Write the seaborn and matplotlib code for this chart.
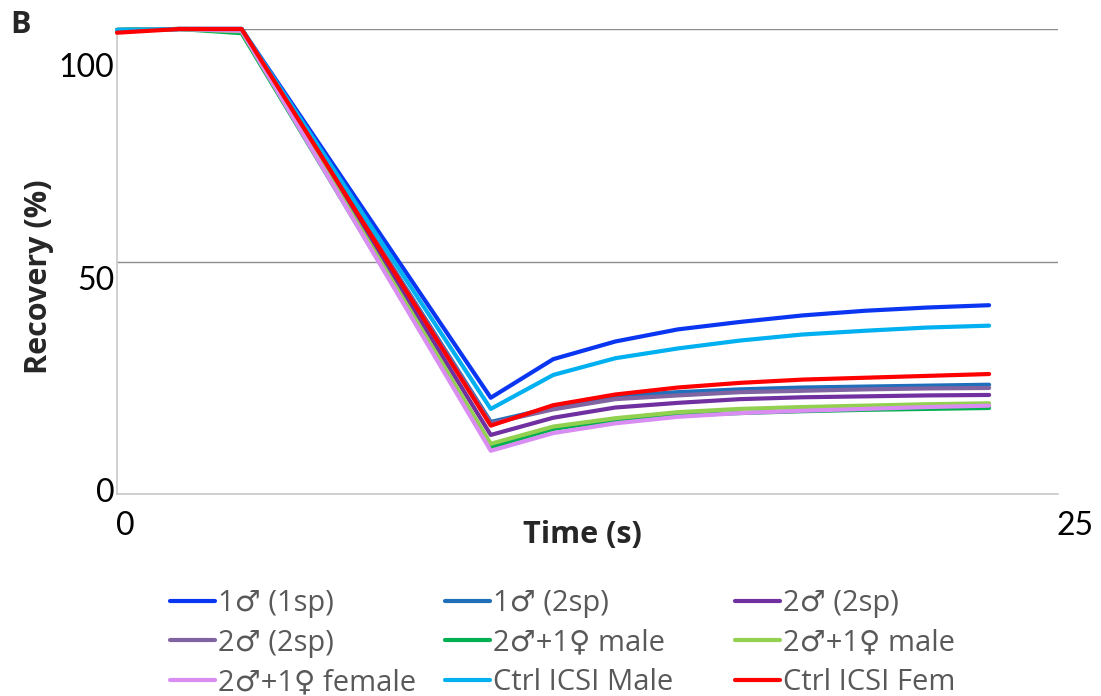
import matplotlib
matplotlib.use("Agg")
import matplotlib.pyplot as plt
import matplotlib.transforms as mtrans
from matplotlib.lines import Line2D
import seaborn as sns
import pandas as pd

# ---- data ----
time_s = [0, 1.66, 3.31, 9.93, 11.59, 13.24, 14.90, 16.55, 18.21, 19.86, 21.52, 23.17]

series_labels = ["1\u2642 (1sp)", "1\u2642 (2sp)", "2\u2642 (2sp)",
                 "2\u2642 (2sp)", "2\u2642+1\u2640 male", "2\u2642+1\u2640 male",
                 "2\u2642+1\u2640 female", "Ctrl ICSI Male", "Ctrl ICSI Fem"]

one_m_1sp = [99.8, 100, 100, 20.7, 29.0, 32.8, 35.4, 37.0, 38.4, 39.4, 40.1, 40.6]
one_m_2sp = [99.8, 100, 100, 15.5, 18.6, 21.0, 21.9, 22.5, 22.9, 23.1, 23.3, 23.5]
two_m_2sp_a = [99.7, 100, 100, 12.7, 16.4, 18.6, 19.6, 20.4, 20.8, 21.0, 21.2, 21.3]
two_m_2sp_b = [99.7, 100, 100, 15.2, 18.2, 20.4, 21.2, 21.9, 22.2, 22.5, 22.7, 22.8]
two_m_f_male_a = [99.8, 100, 99.1, 10.1, 14.0, 15.9, 16.9, 17.4, 17.8, 18.1, 18.3, 18.5]
two_m_f_male_b = [99.8, 100, 99.5, 10.8, 14.5, 16.3, 17.6, 18.3, 18.7, 19.0, 19.3, 19.5]
two_m_f_female = [99.7, 100, 99.6, 9.3, 13.1, 15.2, 16.6, 17.4, 17.9, 18.3, 18.7, 19.0]
ctrl_male = [99.8, 100, 100, 18.3, 25.6, 29.2, 31.3, 33.0, 34.3, 35.1, 35.8, 36.2]
ctrl_fem = [99.2, 100, 100, 14.7, 19.1, 21.4, 22.9, 23.9, 24.6, 25.0, 25.4, 25.8]

all_series = [one_m_1sp, one_m_2sp, two_m_2sp_a, two_m_2sp_b, two_m_f_male_a,
              two_m_f_male_b, two_m_f_female, ctrl_male, ctrl_fem]
colors = ["#0a36f2", "#1f6fbb", "#7030a0", "#8064a2", "#00b050",
          "#92d050", "#d98cf2", "#00b0f0", "#ff0000"]

y_ticks = [0, 50, 100]
x_ticks = [0, 25]

# ---- plotting ----
sns.set_theme(style="white")
plt.rcParams["font.family"] = ["Lato", "DejaVu Sans"]
label_font = ["Open Sans", "DejaVu Sans"]

fig = plt.figure(figsize=(11.01, 6.96), dpi=100)
ax = fig.add_axes([117 / 1101, 1 - 494 / 696, (1058 - 117) / 1101, (494 - 29) / 696])

for i, (vals, col) in enumerate(zip(all_series, colors)):
    df = pd.DataFrame({"t": time_s, "v": vals})
    sns.lineplot(data=df, x="t", y="v", ax=ax, color=col, linewidth=3.0,
                 legend=False, zorder=3 + i, clip_on=False)

ax.set_xlim(0, 25)
ax.set_ylim(0, 100)
ax.set_yticks(y_ticks)
ax.set_xticks(x_ticks)
ax.set_yticklabels([str(v) for v in y_ticks])
ax.set_xticklabels([str(v) for v in x_ticks])
ax.tick_params(axis="both", length=0, labelsize=23, colors="black", pad=2)

# horizontal gridlines (gray) at 50 and 100
for yv in [50, 100]:
    ax.axhline(yv, color="#8c8c8c", linewidth=1.0, zorder=1)

for s in ["top", "right"]:
    ax.spines[s].set_visible(False)
ax.spines["left"].set_color("#c8c8c8")
ax.spines["bottom"].set_color("#c8c8c8")
ax.spines["left"].set_linewidth(1.2)
ax.spines["bottom"].set_linewidth(1.2)

# Excel-like offset of tick labels
ydy = {0: 4, 50: -16, 100: -36}
for lab, v in zip(ax.get_yticklabels(), y_ticks):
    lab.set_transform(lab.get_transform() + mtrans.ScaledTranslation(0, ydy[v] / 100, fig.dpi_scale_trans))
xdx = {0: (8, -14), 25: (17, -14)}
for lab, v in zip(ax.get_xticklabels(), x_ticks):
    dx, dy = xdx[v]
    lab.set_transform(lab.get_transform() + mtrans.ScaledTranslation(dx / 100, dy / 100, fig.dpi_scale_trans))

ax.set_xlabel("Time (s)", fontsize=22, fontweight="bold", family=label_font)
ax.set_ylabel("Recovery (%)", fontsize=22, fontweight="bold", family=label_font)
ax.xaxis.set_label_coords(0.495, -0.055)
ax.yaxis.set_label_coords(-0.067, 0.467)

fig.text(10 / 1101, 1 - 25 / 696, "B", fontsize=22, fontweight="bold", va="center", ha="left",
         family=label_font)

# legend: three columns placed like the reference
handles = [Line2D([0], [0], color=c, linewidth=3.0) for c in colors]
col_x = [170 / 1101, 445 / 1101, 735 / 1101]
for c in range(3):
    idx = [c, c + 3, c + 6]
    leg = fig.legend([handles[k] for k in idx], [series_labels[k] for k in idx],
                     loc="upper left", bbox_to_anchor=(col_x[c], 1 - 589 / 696),
                     frameon=False, prop={"family": label_font, "size": 21},
                     handlelength=1.55, handletextpad=0.08,
                     labelspacing=0.36, borderaxespad=0, borderpad=0)
    for t in leg.get_texts():
        t.set_color("#595959")

fig.savefig("out.png", dpi=100)
